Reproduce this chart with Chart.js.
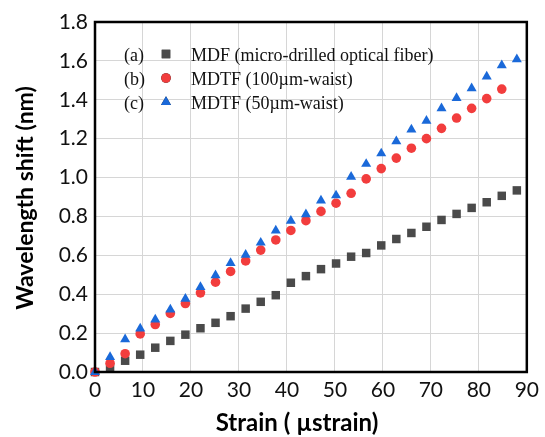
<!DOCTYPE html>
<html>
<head>
<meta charset="utf-8">
<script src="https://cdn.jsdelivr.net/npm/chart.js@4"></script>
<style>
  html, body { margin: 0; padding: 0; background: #fff; }
  #wrap { width: 545px; height: 437px; }
</style>
</head>
<body>
<div id="wrap"><canvas id="strainChart" width="545" height="437"></canvas></div>
<script>
// strain values (µstrain)
const strain = [0, 3.14, 6.28, 9.42, 12.56, 15.7, 18.84, 21.98, 25.12, 28.26,
  31.4, 34.54, 37.68, 40.82, 43.96, 47.1, 50.24, 53.38, 56.52, 59.66,
  62.8, 65.94, 69.08, 72.22, 75.36, 78.5, 81.64, 84.78, 87.92];

// wavelength shift (nm)
const mdf = [0, 0.02, 0.058, 0.089, 0.125, 0.16, 0.192, 0.225, 0.253, 0.287,
  0.326, 0.361, 0.395, 0.459, 0.493, 0.529, 0.558, 0.593, 0.612, 0.651,
  0.684, 0.715, 0.747, 0.782, 0.813, 0.844, 0.873, 0.906, 0.934];
const mdtf100 = [0, 0.045, 0.094, 0.196, 0.244, 0.301, 0.352, 0.407, 0.462, 0.517,
  0.571, 0.627, 0.679, 0.728, 0.778, 0.826, 0.868, 0.919, 0.993, 1.046,
  1.1, 1.151, 1.2, 1.253, 1.306, 1.356, 1.406, 1.455];
const mdtf50 = [0, 0.077, 0.168, 0.223, 0.27, 0.321, 0.376, 0.437, 0.497, 0.56,
  0.603, 0.665, 0.727, 0.777, 0.811, 0.882, 0.908, 1.004, 1.07, 1.124,
  1.186, 1.247, 1.292, 1.356, 1.409, 1.459, 1.519, 1.577, 1.608];

const xTicks = [0, 10, 20, 30, 40, 50, 60, 70, 80, 90];
const yTicks = [0, 0.2, 0.4, 0.6, 0.8, 1.0, 1.2, 1.4, 1.6, 1.8];

const tags = ["(a)", "(b)", "(c)"];
const names = ["MDF (micro-drilled optical fiber)", "MDTF (100\u00b5m-waist)", "MDTF (50\u00b5m-waist)"];
const xTitle = "Strain ( \u00b5strain)";
const yTitle = "Wavelength shift (nm)";

function toPoints(ys) {
  return ys.map((y, i) => ({ x: strain[i], y: y }));
}

// frame, legend and axis titles drawn by hand
const framePlugin = {
  id: "frame",
  afterDatasetsDraw(chart) {
    const { ctx, chartArea: a } = chart;
    ctx.save();
    ctx.strokeStyle = "#000";
    ctx.lineWidth = 2.5;
    ctx.strokeRect(a.left, a.top, a.right - a.left, a.bottom - a.top);
    ctx.restore();
  },
  afterDraw(chart) {
    const ctx = chart.ctx;
    const sets = [chart.data.datasets[2], chart.data.datasets[1], chart.data.datasets[0]];
    ctx.save();
    ctx.font = "18px 'Liberation Serif'";
    ctx.fillStyle = "#111";
    ctx.textBaseline = "middle";
    sets.forEach((ds, i) => {
      const y = 56 + i * 24;
      ctx.fillText(tags[i], 124, y);
      Chart.helpers.drawPoint(ctx, {
        pointStyle: ds.pointStyle,
        radius: ds.pointRadius,
        borderWidth: ds.pointBorderWidth || 0
      }, 166, y - 2);
      ctx.fillStyle = ds.backgroundColor;
      ctx.fill();
      ctx.fillStyle = "#111";
      ctx.fillText(names[i], 191, y);
    });

    // axis titles
    ctx.fillStyle = "#000";
    ctx.textAlign = "center";
    ctx.font = "bold 24px Lato";
    ctx.fillText(xTitle, 297, 423);
    ctx.translate(26, 198);
    ctx.rotate(-Math.PI / 2);
    ctx.font = "bold 23px Lato";
    ctx.fillText(yTitle, 0, 0);
    ctx.restore();
  }
};

const ctx = document.getElementById("strainChart").getContext("2d");
new Chart(ctx, {
  type: "scatter",
  data: {
    datasets: [
      {
        label: names[2],
        data: toPoints(mdtf50),
        pointStyle: "triangle",
        pointRadius: 5.8,
        backgroundColor: "#1a69d9",
        borderColor: "#1a69d9",
        pointBorderWidth: 0,
        clip: false,
        order: 0
      },
      {
        label: names[1],
        data: toPoints(mdtf100),
        pointStyle: "circle",
        pointRadius: 4.8,
        backgroundColor: "#f23d3d",
        borderColor: "#f23d3d",
        pointBorderWidth: 0,
        clip: false,
        order: 1
      },
      {
        label: names[0],
        data: toPoints(mdf),
        pointStyle: "rect",
        pointRadius: 6,
        backgroundColor: "#4a4a4a",
        borderColor: "#4a4a4a",
        pointBorderWidth: 0,
        clip: false,
        order: 2
      }
    ]
  },
  options: {
    responsive: false,
    animation: false,
    layout: { padding: { top: 22, right: 12, left: 0, bottom: 0 } },
    plugins: {
      legend: { display: false },
      tooltip: { enabled: false }
    },
    scales: {
      x: {
        type: "linear",
        min: 0,
        max: 90,
        afterBuildTicks: (axis) => { axis.ticks = xTicks.map(v => ({ value: v })); },
        afterFit: (axis) => { axis.height = 65; },
        grid: { color: "#d6d6d6", borderDash: [3, 3], drawTicks: false },
        border: { display: false },
        ticks: { font: { family: "Lato", size: 21 }, color: "#111", padding: 6 }
      },
      y: {
        type: "linear",
        min: 0,
        max: 1.8,
        afterBuildTicks: (axis) => { axis.ticks = yTicks.map(v => ({ value: v })); },
        afterFit: (axis) => { axis.width = 95; },
        grid: { color: "#d6d6d6", borderDash: [3, 3], drawTicks: false },
        border: { display: false },
        ticks: {
          font: { family: "Lato", size: 21 },
          color: "#111",
          padding: 7,
          callback: (v) => v.toFixed(1)
        }
      }
    }
  },
  plugins: [framePlugin]
});
</script>
</body>
</html>
